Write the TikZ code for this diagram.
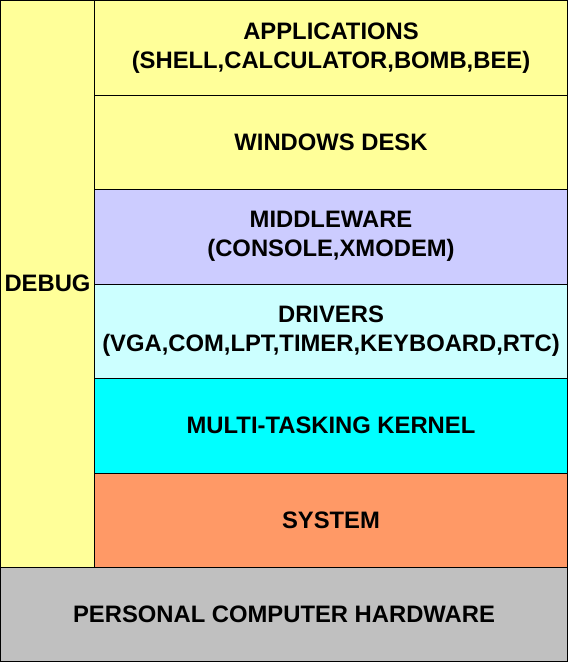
\documentclass[tikz,border=0pt]{standalone}
\usepackage{fontspec}
\setmainfont{Liberation Sans}
\begin{document}
\begin{tikzpicture}[x=1pt,y=-1pt,
  layer/.style={draw=black,line width=1pt,inner sep=0pt,align=center,
    font=\bfseries\fontsize{23.8}{29}\selectfont},
  yel/.style={fill={rgb,255:red,255;green,255;blue,153}},
  lav/.style={fill={rgb,255:red,204;green,204;blue,255}},
  lcy/.style={fill={rgb,255:red,204;green,255;blue,255}},
  cya/.style={fill={rgb,255:red,0;green,255;blue,255}},
  ora/.style={fill={rgb,255:red,255;green,153;blue,102}},
  gry/.style={fill={rgb,255:red,192;green,192;blue,192}}]
\useasboundingbox (0,0) rectangle (568,662);
\node[layer,yel,minimum width=94pt,minimum height=566.5pt] (debug) at (47.5,283.75) {DEBUG};
\node[layer,yel,minimum width=473pt,minimum height=94.5pt] (app) at (331,47.75) {APPLICATIONS\\(SHELL,CALCULATOR,BOMB,BEE)};
\node[layer,yel,minimum width=473pt,minimum height=94.5pt] (win) at (331,142.25) {WINDOWS DESK};
\node[layer,lav,minimum width=473pt,minimum height=94.5pt] (mid) at (331,236.75) {MIDDLEWARE\\(CONSOLE,XMODEM)};
\node[layer,lcy,minimum width=473pt,minimum height=94.5pt] (drv) at (331,331.25) {DRIVERS\\(VGA,COM,LPT,TIMER,KEYBOARD,RTC)};
\node[layer,cya,minimum width=473pt,minimum height=94.5pt] (ker) at (331,425.75) {MULTI-TASKING KERNEL};
\node[layer,ora,minimum width=473pt,minimum height=94.5pt] (sys) at (331,520.25) {SYSTEM};
\node[layer,gry,minimum width=567pt,minimum height=94.5pt] (hw) at (284,614.25) {PERSONAL COMPUTER HARDWARE};
\end{tikzpicture}
\end{document}
